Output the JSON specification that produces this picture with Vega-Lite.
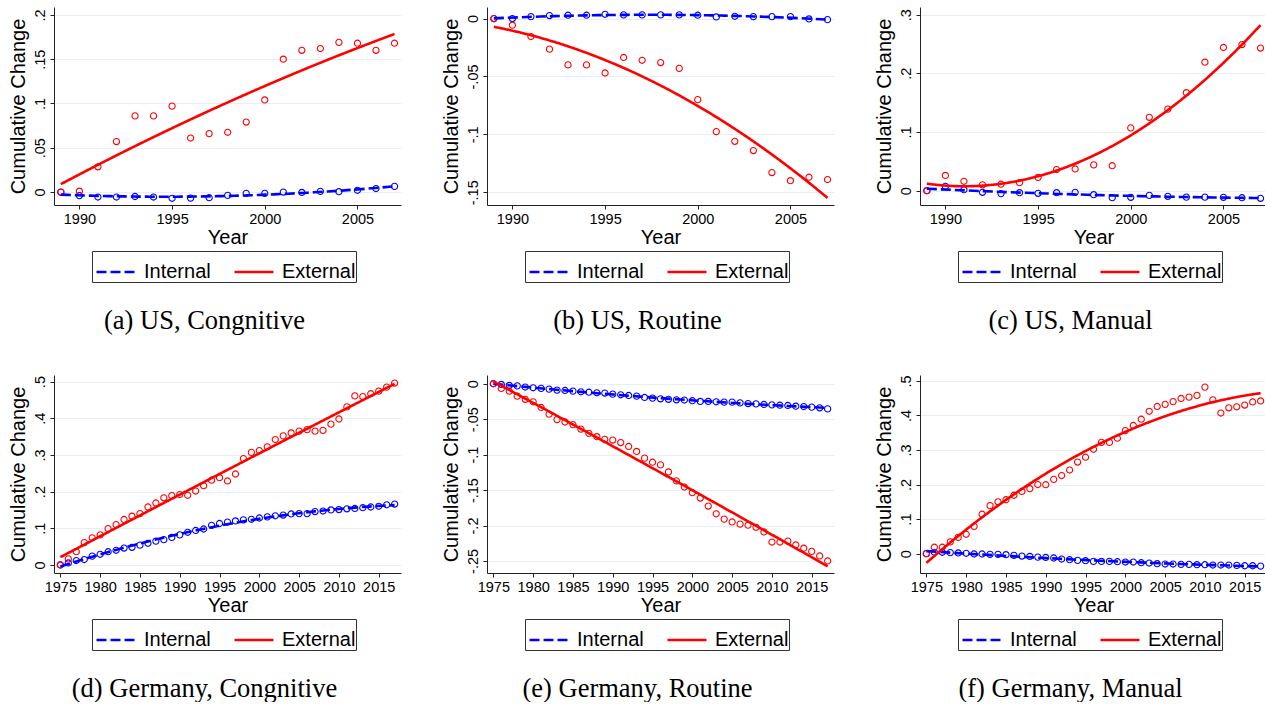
{
  "$schema": "https://vega.github.io/schema/vega-lite/v6.json",
  "background": "white",
  "padding": {"left": 8, "top": 7, "right": 0, "bottom": 0},
  "config": {
    "view": {"stroke": null},
    "font": "Liberation Sans",
    "axis": {
      "labelFont": "Liberation Sans", "titleFont": "Liberation Sans",
      "labelFontSize": 14.5, "titleFontSize": 20, "titleFontWeight": "normal",
      "labelColor": "#000", "titleColor": "#000", "labelOverlap": false,
      "domainColor": "#222", "tickColor": "#222", "tickSize": 4, "domainWidth": 1, "tickWidth": 1,
      "gridColor": "#e6eff1", "gridWidth": 1
    },
    "axisX": {"grid": false, "labelPadding": 3, "titlePadding": 2},
    "axisY": {"grid": true, "labelAngle": -90, "labelPadding": 3, "titlePadding": 4},
    "legend": {
      "orient": "none", "legendX": 38, "legendY": 244, "direction": "horizontal",
      "strokeColor": "#333", "strokeWidth": 1, "padding": 0,
      "symbolType": "stroke", "symbolSize": 1521, "symbolStrokeWidth": 2.6, "symbolOffset": 3,
      "labelFont": "Liberation Sans", "labelFontSize": 20, "labelColor": "#000",
      "labelOffset": 7, "columnPadding": 18,
      "labelExpr": "datum.label == 'External' ? 'External  ' : datum.label"
    },
    "title": {
      "orient": "bottom", "anchor": "middle", "frame": "bounds",
      "font": "Liberation Serif", "fontSize": 26.5, "fontWeight": "normal", "color": "#000", "offset": 25
    }
  },
  "datasets": {
    "a": [
      {"year":1989,"change":0,"series":"Internal"},{"year":1990,"change":-0.004,"series":"Internal"},{"year":1991,"change":-0.0056,"series":"Internal"},{"year":1992,"change":-0.0056,"series":"Internal"},{"year":1993,"change":-0.005,"series":"Internal"},{"year":1994,"change":-0.0056,"series":"Internal"},{"year":1995,"change":-0.007,"series":"Internal"},{"year":1996,"change":-0.0068,"series":"Internal"},{"year":1997,"change":-0.0064,"series":"Internal"},{"year":1998,"change":-0.0037,"series":"Internal"},{"year":1999,"change":-0.0015,"series":"Internal"},{"year":2000,"change":-0.0015,"series":"Internal"},{"year":2001,"change":0,"series":"Internal"},{"year":2002,"change":-0.0004,"series":"Internal"},{"year":2003,"change":0.0008,"series":"Internal"},{"year":2004,"change":0.0004,"series":"Internal"},{"year":2005,"change":0.002,"series":"Internal"},{"year":2006,"change":0.004,"series":"Internal"},{"year":2007,"change":0.0064,"series":"Internal"},
      {"year":1989,"change":0,"series":"External"},{"year":1990,"change":0.001,"series":"External"},{"year":1991,"change":0.0285,"series":"External"},{"year":1992,"change":0.057,"series":"External"},{"year":1993,"change":0.086,"series":"External"},{"year":1994,"change":0.086,"series":"External"},{"year":1995,"change":0.097,"series":"External"},{"year":1996,"change":0.061,"series":"External"},{"year":1997,"change":0.066,"series":"External"},{"year":1998,"change":0.0675,"series":"External"},{"year":1999,"change":0.079,"series":"External"},{"year":2000,"change":0.104,"series":"External"},{"year":2001,"change":0.150,"series":"External"},{"year":2002,"change":0.160,"series":"External"},{"year":2003,"change":0.162,"series":"External"},{"year":2004,"change":0.169,"series":"External"},{"year":2005,"change":0.168,"series":"External"},{"year":2006,"change":0.160,"series":"External"},{"year":2007,"change":0.168,"series":"External"}
    ],
    "b": [
      {"year":1989,"change":0,"series":"Internal"},{"year":1990,"change":0,"series":"Internal"},{"year":1991,"change":0.0017,"series":"Internal"},{"year":1992,"change":0.0026,"series":"Internal"},{"year":1993,"change":0.0029,"series":"Internal"},{"year":1994,"change":0.0029,"series":"Internal"},{"year":1995,"change":0.0037,"series":"Internal"},{"year":1996,"change":0.0032,"series":"Internal"},{"year":1997,"change":0.0032,"series":"Internal"},{"year":1998,"change":0.0032,"series":"Internal"},{"year":1999,"change":0.0032,"series":"Internal"},{"year":2000,"change":0.0029,"series":"Internal"},{"year":2001,"change":0.0014,"series":"Internal"},{"year":2002,"change":0.002,"series":"Internal"},{"year":2003,"change":0.0017,"series":"Internal"},{"year":2004,"change":0.0017,"series":"Internal"},{"year":2005,"change":0.0017,"series":"Internal"},{"year":2006,"change":-0.0003,"series":"Internal"},{"year":2007,"change":-0.0009,"series":"Internal"},
      {"year":1989,"change":0,"series":"External"},{"year":1990,"change":-0.0057,"series":"External"},{"year":1991,"change":-0.0155,"series":"External"},{"year":1992,"change":-0.0264,"series":"External"},{"year":1993,"change":-0.040,"series":"External"},{"year":1994,"change":-0.040,"series":"External"},{"year":1995,"change":-0.047,"series":"External"},{"year":1996,"change":-0.0336,"series":"External"},{"year":1997,"change":-0.036,"series":"External"},{"year":1998,"change":-0.038,"series":"External"},{"year":1999,"change":-0.043,"series":"External"},{"year":2000,"change":-0.070,"series":"External"},{"year":2001,"change":-0.0976,"series":"External"},{"year":2002,"change":-0.106,"series":"External"},{"year":2003,"change":-0.114,"series":"External"},{"year":2004,"change":-0.133,"series":"External"},{"year":2005,"change":-0.140,"series":"External"},{"year":2006,"change":-0.137,"series":"External"},{"year":2007,"change":-0.139,"series":"External"}
    ],
    "c": [
      {"year":1989,"change":0,"series":"Internal"},{"year":1990,"change":0.0074,"series":"Internal"},{"year":1991,"change":0.0017,"series":"Internal"},{"year":1992,"change":-0.0028,"series":"Internal"},{"year":1993,"change":-0.005,"series":"Internal"},{"year":1994,"change":-0.0034,"series":"Internal"},{"year":1995,"change":-0.0045,"series":"Internal"},{"year":1996,"change":-0.0034,"series":"Internal"},{"year":1997,"change":-0.0028,"series":"Internal"},{"year":1998,"change":-0.0068,"series":"Internal"},{"year":1999,"change":-0.012,"series":"Internal"},{"year":2000,"change":-0.0113,"series":"Internal"},{"year":2001,"change":-0.008,"series":"Internal"},{"year":2002,"change":-0.0096,"series":"Internal"},{"year":2003,"change":-0.011,"series":"Internal"},{"year":2004,"change":-0.011,"series":"Internal"},{"year":2005,"change":-0.0113,"series":"Internal"},{"year":2006,"change":-0.012,"series":"Internal"},{"year":2007,"change":-0.013,"series":"Internal"},
      {"year":1989,"change":0,"series":"External"},{"year":1990,"change":0.026,"series":"External"},{"year":1991,"change":0.016,"series":"External"},{"year":1992,"change":0.010,"series":"External"},{"year":1993,"change":0.011,"series":"External"},{"year":1994,"change":0.0136,"series":"External"},{"year":1995,"change":0.0227,"series":"External"},{"year":1996,"change":0.036,"series":"External"},{"year":1997,"change":0.037,"series":"External"},{"year":1998,"change":0.044,"series":"External"},{"year":1999,"change":0.0425,"series":"External"},{"year":2000,"change":0.107,"series":"External"},{"year":2001,"change":0.125,"series":"External"},{"year":2002,"change":0.139,"series":"External"},{"year":2003,"change":0.167,"series":"External"},{"year":2004,"change":0.219,"series":"External"},{"year":2005,"change":0.244,"series":"External"},{"year":2006,"change":0.249,"series":"External"},{"year":2007,"change":0.243,"series":"External"}
    ],
    "d": [
      {"year":1975,"change":0,"series":"Internal"},{"year":1976,"change":0.0055,"series":"Internal"},{"year":1977,"change":0.012,"series":"Internal"},{"year":1978,"change":0.0147,"series":"Internal"},{"year":1979,"change":0.024,"series":"Internal"},{"year":1980,"change":0.029,"series":"Internal"},{"year":1981,"change":0.036,"series":"Internal"},{"year":1982,"change":0.040,"series":"Internal"},{"year":1983,"change":0.046,"series":"Internal"},{"year":1984,"change":0.048,"series":"Internal"},{"year":1985,"change":0.054,"series":"Internal"},{"year":1986,"change":0.059,"series":"Internal"},{"year":1987,"change":0.065,"series":"Internal"},{"year":1988,"change":0.069,"series":"Internal"},{"year":1989,"change":0.075,"series":"Internal"},{"year":1990,"change":0.082,"series":"Internal"},{"year":1991,"change":0.089,"series":"Internal"},{"year":1992,"change":0.094,"series":"Internal"},{"year":1993,"change":0.098,"series":"Internal"},{"year":1994,"change":0.108,"series":"Internal"},{"year":1995,"change":0.113,"series":"Internal"},{"year":1996,"change":0.117,"series":"Internal"},{"year":1997,"change":0.120,"series":"Internal"},{"year":1998,"change":0.123,"series":"Internal"},{"year":1999,"change":0.1245,"series":"Internal"},{"year":2000,"change":0.128,"series":"Internal"},{"year":2001,"change":0.131,"series":"Internal"},{"year":2002,"change":0.134,"series":"Internal"},{"year":2003,"change":0.136,"series":"Internal"},{"year":2004,"change":0.139,"series":"Internal"},{"year":2005,"change":0.140,"series":"Internal"},{"year":2006,"change":0.140,"series":"Internal"},{"year":2007,"change":0.1455,"series":"Internal"},{"year":2008,"change":0.147,"series":"Internal"},{"year":2009,"change":0.150,"series":"Internal"},{"year":2010,"change":0.151,"series":"Internal"},{"year":2011,"change":0.153,"series":"Internal"},{"year":2012,"change":0.154,"series":"Internal"},{"year":2013,"change":0.156,"series":"Internal"},{"year":2014,"change":0.158,"series":"Internal"},{"year":2015,"change":0.160,"series":"Internal"},{"year":2016,"change":0.164,"series":"Internal"},{"year":2017,"change":0.166,"series":"Internal"},
      {"year":1975,"change":0,"series":"External"},{"year":1976,"change":0.0165,"series":"External"},{"year":1977,"change":0.036,"series":"External"},{"year":1978,"change":0.061,"series":"External"},{"year":1979,"change":0.074,"series":"External"},{"year":1980,"change":0.082,"series":"External"},{"year":1981,"change":0.099,"series":"External"},{"year":1982,"change":0.110,"series":"External"},{"year":1983,"change":0.124,"series":"External"},{"year":1984,"change":0.133,"series":"External"},{"year":1985,"change":0.140,"series":"External"},{"year":1986,"change":0.158,"series":"External"},{"year":1987,"change":0.169,"series":"External"},{"year":1988,"change":0.183,"series":"External"},{"year":1989,"change":0.189,"series":"External"},{"year":1990,"change":0.192,"series":"External"},{"year":1991,"change":0.190,"series":"External"},{"year":1992,"change":0.2015,"series":"External"},{"year":1993,"change":0.216,"series":"External"},{"year":1994,"change":0.231,"series":"External"},{"year":1995,"change":0.238,"series":"External"},{"year":1996,"change":0.229,"series":"External"},{"year":1997,"change":0.248,"series":"External"},{"year":1998,"change":0.290,"series":"External"},{"year":1999,"change":0.307,"series":"External"},{"year":2000,"change":0.312,"series":"External"},{"year":2001,"change":0.322,"series":"External"},{"year":2002,"change":0.342,"series":"External"},{"year":2003,"change":0.352,"series":"External"},{"year":2004,"change":0.360,"series":"External"},{"year":2005,"change":0.365,"series":"External"},{"year":2006,"change":0.369,"series":"External"},{"year":2007,"change":0.365,"series":"External"},{"year":2008,"change":0.367,"series":"External"},{"year":2009,"change":0.384,"series":"External"},{"year":2010,"change":0.398,"series":"External"},{"year":2011,"change":0.431,"series":"External"},{"year":2012,"change":0.461,"series":"External"},{"year":2013,"change":0.459,"series":"External"},{"year":2014,"change":0.467,"series":"External"},{"year":2015,"change":0.474,"series":"External"},{"year":2016,"change":0.485,"series":"External"},{"year":2017,"change":0.496,"series":"External"}
    ],
    "e": [
      {"year":1975,"change":0,"series":"Internal"},{"year":1976,"change":-0.001,"series":"Internal"},{"year":1977,"change":-0.0024,"series":"Internal"},{"year":1978,"change":-0.003,"series":"Internal"},{"year":1979,"change":-0.0047,"series":"Internal"},{"year":1980,"change":-0.0057,"series":"Internal"},{"year":1981,"change":-0.0066,"series":"Internal"},{"year":1982,"change":-0.0076,"series":"Internal"},{"year":1983,"change":-0.009,"series":"Internal"},{"year":1984,"change":-0.0095,"series":"Internal"},{"year":1985,"change":-0.0104,"series":"Internal"},{"year":1986,"change":-0.0114,"series":"Internal"},{"year":1987,"change":-0.012,"series":"Internal"},{"year":1988,"change":-0.0128,"series":"Internal"},{"year":1989,"change":-0.0132,"series":"Internal"},{"year":1990,"change":-0.0147,"series":"Internal"},{"year":1991,"change":-0.0156,"series":"Internal"},{"year":1992,"change":-0.0166,"series":"Internal"},{"year":1993,"change":-0.0175,"series":"Internal"},{"year":1994,"change":-0.0194,"series":"Internal"},{"year":1995,"change":-0.0203,"series":"Internal"},{"year":1996,"change":-0.0213,"series":"Internal"},{"year":1997,"change":-0.022,"series":"Internal"},{"year":1998,"change":-0.0227,"series":"Internal"},{"year":1999,"change":-0.023,"series":"Internal"},{"year":2000,"change":-0.024,"series":"Internal"},{"year":2001,"change":-0.025,"series":"Internal"},{"year":2002,"change":-0.025,"series":"Internal"},{"year":2003,"change":-0.0255,"series":"Internal"},{"year":2004,"change":-0.026,"series":"Internal"},{"year":2005,"change":-0.026,"series":"Internal"},{"year":2006,"change":-0.027,"series":"Internal"},{"year":2007,"change":-0.028,"series":"Internal"},{"year":2008,"change":-0.0284,"series":"Internal"},{"year":2009,"change":-0.0293,"series":"Internal"},{"year":2010,"change":-0.0298,"series":"Internal"},{"year":2011,"change":-0.0303,"series":"Internal"},{"year":2012,"change":-0.0307,"series":"Internal"},{"year":2013,"change":-0.0317,"series":"Internal"},{"year":2014,"change":-0.0322,"series":"Internal"},{"year":2015,"change":-0.033,"series":"Internal"},{"year":2016,"change":-0.034,"series":"Internal"},{"year":2017,"change":-0.0355,"series":"Internal"},
      {"year":1975,"change":0,"series":"External"},{"year":1976,"change":-0.0066,"series":"External"},{"year":1977,"change":-0.0104,"series":"External"},{"year":1978,"change":-0.0175,"series":"External"},{"year":1979,"change":-0.022,"series":"External"},{"year":1980,"change":-0.0255,"series":"External"},{"year":1981,"change":-0.0335,"series":"External"},{"year":1982,"change":-0.043,"series":"External"},{"year":1983,"change":-0.0506,"series":"External"},{"year":1984,"change":-0.054,"series":"External"},{"year":1985,"change":-0.0577,"series":"External"},{"year":1986,"change":-0.064,"series":"External"},{"year":1987,"change":-0.070,"series":"External"},{"year":1988,"change":-0.0747,"series":"External"},{"year":1989,"change":-0.0785,"series":"External"},{"year":1990,"change":-0.0795,"series":"External"},{"year":1991,"change":-0.083,"series":"External"},{"year":1992,"change":-0.0885,"series":"External"},{"year":1993,"change":-0.0955,"series":"External"},{"year":1994,"change":-0.105,"series":"External"},{"year":1995,"change":-0.1107,"series":"External"},{"year":1996,"change":-0.1145,"series":"External"},{"year":1997,"change":-0.1244,"series":"External"},{"year":1998,"change":-0.137,"series":"External"},{"year":1999,"change":-0.1457,"series":"External"},{"year":2000,"change":-0.1537,"series":"External"},{"year":2001,"change":-0.1613,"series":"External"},{"year":2002,"change":-0.1726,"series":"External"},{"year":2003,"change":-0.1835,"series":"External"},{"year":2004,"change":-0.191,"series":"External"},{"year":2005,"change":-0.195,"series":"External"},{"year":2006,"change":-0.198,"series":"External"},{"year":2007,"change":-0.1996,"series":"External"},{"year":2008,"change":-0.2025,"series":"External"},{"year":2009,"change":-0.209,"series":"External"},{"year":2010,"change":-0.2233,"series":"External"},{"year":2011,"change":-0.2233,"series":"External"},{"year":2012,"change":-0.222,"series":"External"},{"year":2013,"change":-0.2275,"series":"External"},{"year":2014,"change":-0.232,"series":"External"},{"year":2015,"change":-0.2365,"series":"External"},{"year":2016,"change":-0.243,"series":"External"},{"year":2017,"change":-0.250,"series":"External"}
    ],
    "f": [
      {"year":1975,"change":0,"series":"Internal"},{"year":1976,"change":0.004,"series":"Internal"},{"year":1977,"change":0.004,"series":"Internal"},{"year":1978,"change":0.003,"series":"Internal"},{"year":1979,"change":0.002,"series":"Internal"},{"year":1980,"change":0.001,"series":"Internal"},{"year":1981,"change":-0.001,"series":"Internal"},{"year":1982,"change":-0.001,"series":"Internal"},{"year":1983,"change":-0.002,"series":"Internal"},{"year":1984,"change":-0.002,"series":"Internal"},{"year":1985,"change":-0.003,"series":"Internal"},{"year":1986,"change":-0.005,"series":"Internal"},{"year":1987,"change":-0.007,"series":"Internal"},{"year":1988,"change":-0.008,"series":"Internal"},{"year":1989,"change":-0.010,"series":"Internal"},{"year":1990,"change":-0.011,"series":"Internal"},{"year":1991,"change":-0.0126,"series":"Internal"},{"year":1992,"change":-0.0156,"series":"Internal"},{"year":1993,"change":-0.0175,"series":"Internal"},{"year":1994,"change":-0.0195,"series":"Internal"},{"year":1995,"change":-0.0204,"series":"Internal"},{"year":1996,"change":-0.0224,"series":"Internal"},{"year":1997,"change":-0.0224,"series":"Internal"},{"year":1998,"change":-0.0224,"series":"Internal"},{"year":1999,"change":-0.0233,"series":"Internal"},{"year":2000,"change":-0.0243,"series":"Internal"},{"year":2001,"change":-0.0243,"series":"Internal"},{"year":2002,"change":-0.0263,"series":"Internal"},{"year":2003,"change":-0.0272,"series":"Internal"},{"year":2004,"change":-0.029,"series":"Internal"},{"year":2005,"change":-0.030,"series":"Internal"},{"year":2006,"change":-0.030,"series":"Internal"},{"year":2007,"change":-0.031,"series":"Internal"},{"year":2008,"change":-0.031,"series":"Internal"},{"year":2009,"change":-0.032,"series":"Internal"},{"year":2010,"change":-0.032,"series":"Internal"},{"year":2011,"change":-0.033,"series":"Internal"},{"year":2012,"change":-0.033,"series":"Internal"},{"year":2013,"change":-0.033,"series":"Internal"},{"year":2014,"change":-0.034,"series":"Internal"},{"year":2015,"change":-0.035,"series":"Internal"},{"year":2016,"change":-0.035,"series":"Internal"},{"year":2017,"change":-0.036,"series":"Internal"},
      {"year":1975,"change":0,"series":"External"},{"year":1976,"change":0.0185,"series":"External"},{"year":1977,"change":0.0185,"series":"External"},{"year":1978,"change":0.034,"series":"External"},{"year":1979,"change":0.047,"series":"External"},{"year":1980,"change":0.056,"series":"External"},{"year":1981,"change":0.079,"series":"External"},{"year":1982,"change":0.114,"series":"External"},{"year":1983,"change":0.139,"series":"External"},{"year":1984,"change":0.150,"series":"External"},{"year":1985,"change":0.156,"series":"External"},{"year":1986,"change":0.169,"series":"External"},{"year":1987,"change":0.180,"series":"External"},{"year":1988,"change":0.188,"series":"External"},{"year":1989,"change":0.200,"series":"External"},{"year":1990,"change":0.1995,"series":"External"},{"year":1991,"change":0.215,"series":"External"},{"year":1992,"change":0.226,"series":"External"},{"year":1993,"change":0.242,"series":"External"},{"year":1994,"change":0.265,"series":"External"},{"year":1995,"change":0.279,"series":"External"},{"year":1996,"change":0.302,"series":"External"},{"year":1997,"change":0.322,"series":"External"},{"year":1998,"change":0.322,"series":"External"},{"year":1999,"change":0.334,"series":"External"},{"year":2000,"change":0.356,"series":"External"},{"year":2001,"change":0.371,"series":"External"},{"year":2002,"change":0.389,"series":"External"},{"year":2003,"change":0.412,"series":"External"},{"year":2004,"change":0.426,"series":"External"},{"year":2005,"change":0.432,"series":"External"},{"year":2006,"change":0.440,"series":"External"},{"year":2007,"change":0.449,"series":"External"},{"year":2008,"change":0.453,"series":"External"},{"year":2009,"change":0.458,"series":"External"},{"year":2010,"change":0.482,"series":"External"},{"year":2011,"change":0.445,"series":"External"},{"year":2012,"change":0.407,"series":"External"},{"year":2013,"change":0.422,"series":"External"},{"year":2014,"change":0.425,"series":"External"},{"year":2015,"change":0.430,"series":"External"},{"year":2016,"change":0.439,"series":"External"},{"year":2017,"change":0.442,"series":"External"}
    ]
  },
  "columns": 3,
  "spacing": {"row": 40, "column": 40},
  "resolve": {
    "scale": {"x": "independent", "y": "independent", "color": "independent", "strokeDash": "independent"},
    "axis": {"x": "independent", "y": "independent"},
    "legend": {"color": "independent", "strokeDash": "independent"}
  },
  "concat": [
    {
      "width": 347, "height": 198,
      "title": "(a) US, Congnitive",
      "data": {"name": "a"},
      "encoding": {
        "x": {"field": "year", "type": "quantitative", "scale": {"domain": [1988.63, 2007.35], "nice": false, "zero": false}, "axis": {"values": [1990, 1995, 2000, 2005], "format": "d", "title": "Year"}},
        "y": {"field": "change", "type": "quantitative", "scale": {"domain": [-0.0146, 0.2089], "nice": false, "zero": false}, "axis": {"values": [0, 0.05, 0.1, 0.15, 0.2], "labelExpr": "(datum.value < 0 ? '-' : '') + replace(format(abs(datum.value), '~g'), '0.', '.')", "title": "Cumulative Change"}}
      },
      "layer": [
        {"transform": [{"filter": "datum.series === 'Internal'"}], "mark": {"type": "point", "shape": "circle", "filled": false, "size": 38, "strokeWidth": 1.1, "opacity": 1, "color": "#0000ff"}},
        {"transform": [{"filter": "datum.series === 'External'"}], "mark": {"type": "point", "shape": "circle", "filled": false, "size": 38, "strokeWidth": 1.1, "opacity": 1, "color": "#ff0000"}},
        {"transform": [{"regression": "change", "on": "year", "groupby": ["series"], "method": "poly", "order": 2}],
         "mark": {"type": "line", "strokeWidth": 2.6, "clip": true},
         "encoding": {
           "color": {"field": "series", "type": "nominal", "sort": ["Internal", "External"], "title": null, "scale": {"domain": ["Internal", "External"], "range": ["#0000ff", "#ff0000"]}},
           "strokeDash": {"field": "series", "type": "nominal", "sort": ["Internal", "External"], "title": null, "scale": {"domain": ["Internal", "External"], "range": [[10, 4], [1, 0]]}}
         }}
      ]
    },
    {
      "width": 347, "height": 198,
      "title": "(b) US, Routine",
      "data": {"name": "b"},
      "encoding": {
        "x": {"field": "year", "type": "quantitative", "scale": {"domain": [1988.63, 2007.35], "nice": false, "zero": false}, "axis": {"values": [1990, 1995, 2000, 2005], "format": "d", "title": "Year"}},
        "y": {"field": "change", "type": "quantitative", "scale": {"domain": [-0.161, 0.010], "nice": false, "zero": false}, "axis": {"values": [0, -0.05, -0.1, -0.15], "labelExpr": "(datum.value < 0 ? '-' : '') + replace(format(abs(datum.value), '~g'), '0.', '.')", "title": "Cumulative Change"}}
      },
      "layer": [
        {"transform": [{"filter": "datum.series === 'Internal'"}], "mark": {"type": "point", "shape": "circle", "filled": false, "size": 38, "strokeWidth": 1.1, "opacity": 1, "color": "#0000ff"}},
        {"transform": [{"filter": "datum.series === 'External'"}], "mark": {"type": "point", "shape": "circle", "filled": false, "size": 38, "strokeWidth": 1.1, "opacity": 1, "color": "#ff0000"}},
        {"transform": [{"regression": "change", "on": "year", "groupby": ["series"], "method": "poly", "order": 2}],
         "mark": {"type": "line", "strokeWidth": 2.6, "clip": true},
         "encoding": {
           "color": {"field": "series", "type": "nominal", "sort": ["Internal", "External"], "title": null, "scale": {"domain": ["Internal", "External"], "range": ["#0000ff", "#ff0000"]}},
           "strokeDash": {"field": "series", "type": "nominal", "sort": ["Internal", "External"], "title": null, "scale": {"domain": ["Internal", "External"], "range": [[10, 4], [1, 0]]}}
         }}
      ]
    },
    {
      "width": 347, "height": 198,
      "title": "(c) US, Manual",
      "data": {"name": "c"},
      "encoding": {
        "x": {"field": "year", "type": "quantitative", "scale": {"domain": [1988.63, 2007.35], "nice": false, "zero": false}, "axis": {"values": [1990, 1995, 2000, 2005], "format": "d", "title": "Year"}},
        "y": {"field": "change", "type": "quantitative", "scale": {"domain": [-0.0244, 0.313], "nice": false, "zero": false}, "axis": {"values": [0, 0.1, 0.2, 0.3], "labelExpr": "(datum.value < 0 ? '-' : '') + replace(format(abs(datum.value), '~g'), '0.', '.')", "title": "Cumulative Change"}}
      },
      "layer": [
        {"transform": [{"filter": "datum.series === 'Internal'"}], "mark": {"type": "point", "shape": "circle", "filled": false, "size": 38, "strokeWidth": 1.1, "opacity": 1, "color": "#0000ff"}},
        {"transform": [{"filter": "datum.series === 'External'"}], "mark": {"type": "point", "shape": "circle", "filled": false, "size": 38, "strokeWidth": 1.1, "opacity": 1, "color": "#ff0000"}},
        {"transform": [{"regression": "change", "on": "year", "groupby": ["series"], "method": "poly", "order": 2}],
         "mark": {"type": "line", "strokeWidth": 2.6, "clip": true},
         "encoding": {
           "color": {"field": "series", "type": "nominal", "sort": ["Internal", "External"], "title": null, "scale": {"domain": ["Internal", "External"], "range": ["#0000ff", "#ff0000"]}},
           "strokeDash": {"field": "series", "type": "nominal", "sort": ["Internal", "External"], "title": null, "scale": {"domain": ["Internal", "External"], "range": [[10, 4], [1, 0]]}}
         }}
      ]
    },
    {
      "width": 347, "height": 198,
      "title": "(d) Germany, Congnitive",
      "data": {"name": "d"},
      "encoding": {
        "x": {"field": "year", "type": "quantitative", "scale": {"domain": [1974.2, 2017.8], "nice": false, "zero": false}, "axis": {"values": [1975, 1980, 1985, 1990, 1995, 2000, 2005, 2010, 2015], "format": "d", "title": "Year"}},
        "y": {"field": "change", "type": "quantitative", "scale": {"domain": [-0.022, 0.518], "nice": false, "zero": false}, "axis": {"values": [0, 0.1, 0.2, 0.3, 0.4, 0.5], "labelExpr": "(datum.value < 0 ? '-' : '') + replace(format(abs(datum.value), '~g'), '0.', '.')", "title": "Cumulative Change"}}
      },
      "layer": [
        {"transform": [{"filter": "datum.series === 'Internal'"}], "mark": {"type": "point", "shape": "circle", "filled": false, "size": 38, "strokeWidth": 1.1, "opacity": 1, "color": "#0000ff"}},
        {"transform": [{"filter": "datum.series === 'External'"}], "mark": {"type": "point", "shape": "circle", "filled": false, "size": 38, "strokeWidth": 1.1, "opacity": 1, "color": "#ff0000"}},
        {"transform": [{"regression": "change", "on": "year", "groupby": ["series"], "method": "poly", "order": 2}],
         "mark": {"type": "line", "strokeWidth": 2.6, "clip": true},
         "encoding": {
           "color": {"field": "series", "type": "nominal", "sort": ["Internal", "External"], "title": null, "scale": {"domain": ["Internal", "External"], "range": ["#0000ff", "#ff0000"]}},
           "strokeDash": {"field": "series", "type": "nominal", "sort": ["Internal", "External"], "title": null, "scale": {"domain": ["Internal", "External"], "range": [[10, 4], [1, 0]]}}
         }}
      ]
    },
    {
      "width": 347, "height": 198,
      "title": "(e) Germany, Routine",
      "data": {"name": "e"},
      "encoding": {
        "x": {"field": "year", "type": "quantitative", "scale": {"domain": [1974.2, 2017.8], "nice": false, "zero": false}, "axis": {"values": [1975, 1980, 1985, 1990, 1995, 2000, 2005, 2010, 2015], "format": "d", "title": "Year"}},
        "y": {"field": "change", "type": "quantitative", "scale": {"domain": [-0.267, 0.0123], "nice": false, "zero": false}, "axis": {"values": [0, -0.05, -0.1, -0.15, -0.2, -0.25], "labelExpr": "(datum.value < 0 ? '-' : '') + replace(format(abs(datum.value), '~g'), '0.', '.')", "title": "Cumulative Change"}}
      },
      "layer": [
        {"transform": [{"filter": "datum.series === 'Internal'"}], "mark": {"type": "point", "shape": "circle", "filled": false, "size": 38, "strokeWidth": 1.1, "opacity": 1, "color": "#0000ff"}},
        {"transform": [{"filter": "datum.series === 'External'"}], "mark": {"type": "point", "shape": "circle", "filled": false, "size": 38, "strokeWidth": 1.1, "opacity": 1, "color": "#ff0000"}},
        {"transform": [{"regression": "change", "on": "year", "groupby": ["series"], "method": "poly", "order": 2}],
         "mark": {"type": "line", "strokeWidth": 2.6, "clip": true},
         "encoding": {
           "color": {"field": "series", "type": "nominal", "sort": ["Internal", "External"], "title": null, "scale": {"domain": ["Internal", "External"], "range": ["#0000ff", "#ff0000"]}},
           "strokeDash": {"field": "series", "type": "nominal", "sort": ["Internal", "External"], "title": null, "scale": {"domain": ["Internal", "External"], "range": [[10, 4], [1, 0]]}}
         }}
      ]
    },
    {
      "width": 347, "height": 198,
      "title": "(f) Germany, Manual",
      "data": {"name": "f"},
      "encoding": {
        "x": {"field": "year", "type": "quantitative", "scale": {"domain": [1974.2, 2017.8], "nice": false, "zero": false}, "axis": {"values": [1975, 1980, 1985, 1990, 1995, 2000, 2005, 2010, 2015], "format": "d", "title": "Year"}},
        "y": {"field": "change", "type": "quantitative", "scale": {"domain": [-0.056, 0.517], "nice": false, "zero": false}, "axis": {"values": [0, 0.1, 0.2, 0.3, 0.4, 0.5], "labelExpr": "(datum.value < 0 ? '-' : '') + replace(format(abs(datum.value), '~g'), '0.', '.')", "title": "Cumulative Change"}}
      },
      "layer": [
        {"transform": [{"filter": "datum.series === 'Internal'"}], "mark": {"type": "point", "shape": "circle", "filled": false, "size": 38, "strokeWidth": 1.1, "opacity": 1, "color": "#0000ff"}},
        {"transform": [{"filter": "datum.series === 'External'"}], "mark": {"type": "point", "shape": "circle", "filled": false, "size": 38, "strokeWidth": 1.1, "opacity": 1, "color": "#ff0000"}},
        {"transform": [{"regression": "change", "on": "year", "groupby": ["series"], "method": "poly", "order": 2}],
         "mark": {"type": "line", "strokeWidth": 2.6, "clip": true},
         "encoding": {
           "color": {"field": "series", "type": "nominal", "sort": ["Internal", "External"], "title": null, "scale": {"domain": ["Internal", "External"], "range": ["#0000ff", "#ff0000"]}},
           "strokeDash": {"field": "series", "type": "nominal", "sort": ["Internal", "External"], "title": null, "scale": {"domain": ["Internal", "External"], "range": [[10, 4], [1, 0]]}}
         }}
      ]
    }
  ]
}
